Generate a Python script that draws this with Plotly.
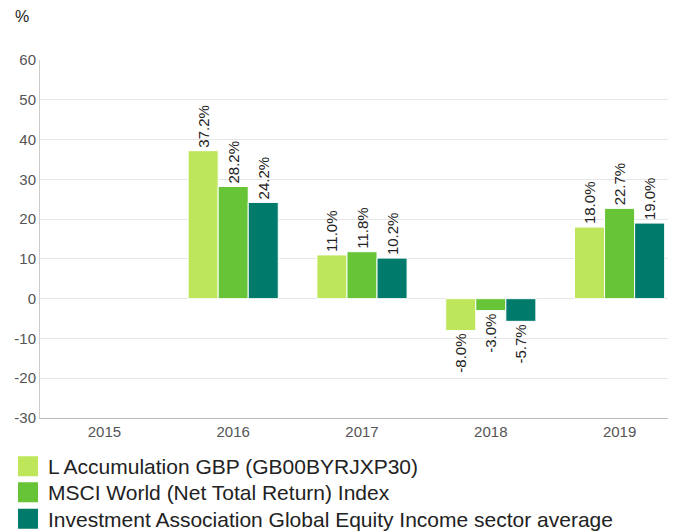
import plotly.graph_objects as go

years = ["2015", "2016", "2017", "2018", "2019"]
fund = [None, 37.2, 11.0, -8.0, 18.0]
msci = [None, 28.2, 11.8, -3.0, 22.7]
sector = [None, 24.2, 10.2, -5.7, 19.0]
names = ["L Accumulation GBP (GB00BYRJXP30)",
         "MSCI World (Net Total Return) Index",
         "Investment Association Global Equity Income sector average"]
colors = ["#bde65a", "#66c436", "#007a6a"]
ytick_vals = [-30, -20, -10, 0, 10, 20, 30, 40, 50, 60]
ytick_text = [str(v) for v in ytick_vals]

FONT = "Liberation Sans, Arial, sans-serif"
legend_ids = ["legend", "legend2", "legend3"]
legend_y = [0.1382, 0.0893, 0.0395]

fig = go.Figure()
for vals, name, col in zip([fund, msci, sector], names, colors):
    fig.add_trace(go.Bar(
        x=years, y=vals, name=name, showlegend=False,
        marker=dict(color=col, line=dict(color="white", width=1)),
        text=[None if v is None else f"{v:.1f}%" for v in vals],
        textposition="outside", textangle=-90, constraintext="none",
        textfont=dict(size=15, color="#222", family=FONT),
        cliponaxis=False,
    ))
# legend entries with larger square swatches, one legend per row
for name, col, lid in zip(names, colors, legend_ids):
    fig.add_trace(go.Scatter(
        x=[None], y=[None], name=name, mode="markers",
        marker=dict(symbol="square", size=16, color=col,
                    line=dict(color=col, width=4)),
        showlegend=True, legend=lid,
    ))

legend_style = dict(orientation="v", xref="container", yref="container",
                    x=0, xanchor="left", yanchor="middle",
                    font=dict(size=21, color="#222", family=FONT),
                    itemwidth=30, bgcolor="rgba(0,0,0,0)")

fig.update_layout(
    width=676, height=532,
    margin=dict(l=32, r=0, t=52, b=122, autoexpand=False),
    plot_bgcolor="white", paper_bgcolor="white",
    barmode="group", bargap=0.3, bargroupgap=0,
    font=dict(family=FONT, color="#444"),
    showlegend=True,
    legend=dict(legend_style, y=legend_y[0]),
    legend2=dict(legend_style, y=legend_y[1]),
    legend3=dict(legend_style, y=legend_y[2]),
    xaxis=dict(range=[-0.5, 4.5], showgrid=False, showline=True, linecolor="#bbb",
               ticks="", tickfont=dict(size=15, color="#555"), automargin=False),
    yaxis=dict(range=[-30, 60], tickvals=ytick_vals, ticktext=ytick_text,
               showgrid=True, gridcolor="#e6e6e6",
               zeroline=False, showline=True, linecolor="#ccc",
               tickfont=dict(size=15, color="#555"), ticks="", automargin=False),
    annotations=[dict(text="%", xref="paper", yref="paper", x=0, y=1.0,
                      xshift=-27, yshift=43.5, xanchor="left", yanchor="middle",
                      showarrow=False, font=dict(size=16, color="#222"))],
)
fig.write_html("out.html")
